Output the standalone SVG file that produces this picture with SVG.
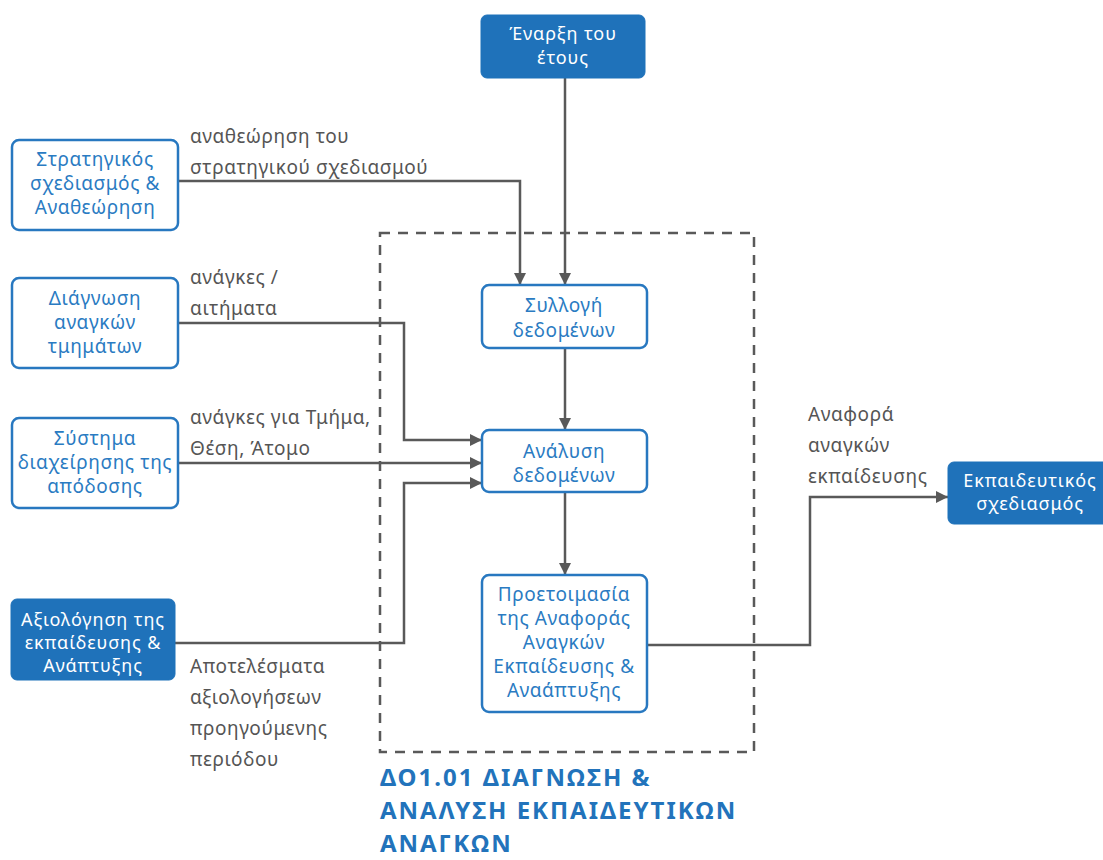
<svg xmlns="http://www.w3.org/2000/svg" width="1103" height="860" viewBox="0 0 1103 860">
<style>
.nb{fill:#fff;stroke:#2878c0;stroke-width:2.5}
.nf{fill:#1f72ba;stroke:#1f72ba;stroke-width:1}
.tb{font-family:"Noto Sans",sans-serif;font-size:19px;letter-spacing:0.6px;fill:#2a7bc2;text-anchor:middle}
.tw{font-family:"Noto Sans",sans-serif;font-size:18px;letter-spacing:0.9px;fill:#fff;text-anchor:middle}
.lb{font-family:"Noto Sans",sans-serif;font-size:19px;letter-spacing:0.6px;fill:#555}
.c{fill:none;stroke:#595959;stroke-width:2.5}
.title{font-family:"Noto Sans",sans-serif;font-size:24px;letter-spacing:2px;font-weight:bold;fill:#2273bb}
</style>
<defs>
<marker id="ar" viewBox="0 0 10 10" refX="10" refY="5" markerWidth="5" markerHeight="5" orient="auto" markerUnits="strokeWidth">
<path d="M0,0 L10,5 L0,10 z" fill="#595959"/>
</marker>
</defs>
<rect x="380" y="233" width="374" height="519" fill="none" stroke="#595959" stroke-width="2.5" stroke-dasharray="10,8"/>
<g id="connectors">
<path class="c" d="M565,78 V285" marker-end="url(#ar)"/>
<path class="c" d="M178,181 H520 V285" marker-end="url(#ar)"/>
<path class="c" d="M178,323 H404 V440 H482" marker-end="url(#ar)"/>
<path class="c" d="M178,463 H482" marker-end="url(#ar)"/>
<path class="c" d="M175,643 H404 V483 H482" marker-end="url(#ar)"/>
<path class="c" d="M565,348 V430" marker-end="url(#ar)"/>
<path class="c" d="M565,492 V575" marker-end="url(#ar)"/>
<path class="c" d="M647,645 H810 V497 H948" marker-end="url(#ar)"/>
</g>
<g id="start">
<rect class="nf" x="481" y="15" width="164" height="63" rx="6"/>
<text class="tw" x="563" y="40">Έναρξη του</text>
<text class="tw" x="563" y="64">έτους</text>
</g>
<g id="strategic">
<rect class="nb" x="12" y="140" width="166" height="90" rx="7"/>
<text class="tb" x="95" y="166">Στρατηγικός</text>
<text class="tb" x="95" y="190">σχεδιασμός &amp;</text>
<text class="tb" x="95" y="214">Αναθεώρηση</text>
</g>
<g id="diagnosis">
<rect class="nb" x="12" y="278" width="166" height="90" rx="7"/>
<text class="tb" x="95" y="305">Διάγνωση</text>
<text class="tb" x="95" y="329">αναγκών</text>
<text class="tb" x="95" y="353">τμημάτων</text>
</g>
<g id="performance">
<rect class="nb" x="12" y="418" width="166" height="90" rx="7"/>
<text class="tb" x="95" y="445">Σύστημα</text>
<text class="tb" x="95" y="469">διαχείρησης της</text>
<text class="tb" x="95" y="493">απόδοσης</text>
</g>
<g id="evaluation">
<rect class="nf" x="11" y="599" width="164" height="81" rx="6"/>
<text class="tw" x="93" y="626">Αξιολόγηση της</text>
<text class="tw" x="93" y="649">εκπαίδευσης &amp;</text>
<text class="tw" x="93" y="672">Ανάπτυξης</text>
</g>
<g id="collect">
<rect class="nb" x="482" y="285" width="165" height="63" rx="7"/>
<text class="tb" x="564" y="312">Συλλογή</text>
<text class="tb" x="564" y="337">δεδομένων</text>
</g>
<g id="analysis">
<rect class="nb" x="482" y="430" width="165" height="62" rx="7"/>
<text class="tb" x="564" y="458">Ανάλυση</text>
<text class="tb" x="564" y="482">δεδομένων</text>
</g>
<g id="prepare">
<rect class="nb" x="482" y="575" width="165" height="137" rx="7"/>
<text class="tb" x="564" y="601">Προετοιμασία</text>
<text class="tb" x="564" y="625">της Αναφοράς</text>
<text class="tb" x="564" y="649">Αναγκών</text>
<text class="tb" x="564" y="673">Εκπαίδευσης &amp;</text>
<text class="tb" x="564" y="697">Αναάπτυξης</text>
</g>
<g id="training">
<rect class="nf" x="948" y="462" width="162" height="62" rx="6"/>
<text class="tw" x="1030" y="487">Εκπαιδευτικός</text>
<text class="tw" x="1030" y="510">σχεδιασμός</text>
</g>
<g id="labels">
<text class="lb" x="190" y="143">αναθεώρηση του</text>
<text class="lb" x="190" y="174">στρατηγικού σχεδιασμού</text>
<text class="lb" x="190" y="284">ανάγκες /</text>
<text class="lb" x="190" y="315">αιτήματα</text>
<text class="lb" x="190" y="424">ανάγκες για Τμήμα,</text>
<text class="lb" x="190" y="455">Θέση, Άτομο</text>
<text class="lb" x="190" y="673">Αποτελέσματα</text>
<text class="lb" x="190" y="704">αξιολογήσεων</text>
<text class="lb" x="190" y="735">προηγούμενης</text>
<text class="lb" x="190" y="766">περιόδου</text>
<text class="lb" x="808" y="421">Αναφορά</text>
<text class="lb" x="808" y="452">αναγκών</text>
<text class="lb" x="808" y="483">εκπαίδευσης</text>
</g>
<g id="title">
<text class="title" x="380" y="786">ΔΟ1.01 ΔΙΑΓΝΩΣΗ &amp;</text>
<text class="title" x="380" y="819">ΑΝΑΛΥΣΗ ΕΚΠΑΙΔΕΥΤΙΚΩΝ</text>
<text class="title" x="380" y="852">ΑΝΑΓΚΩΝ</text>
</g>
</svg>
